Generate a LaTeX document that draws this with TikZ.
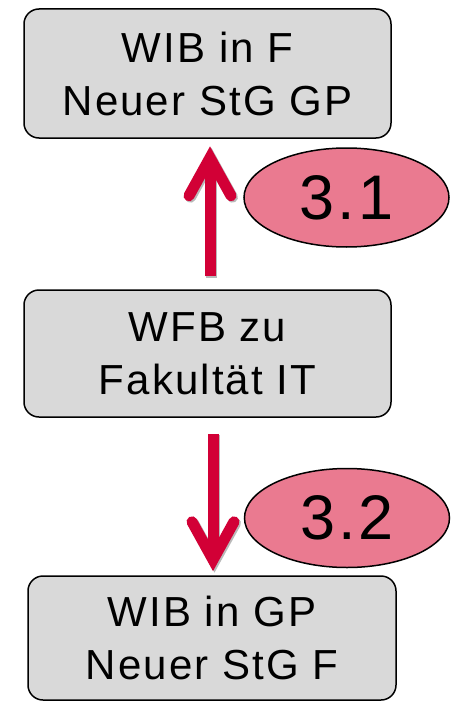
\documentclass[tikz,border=0pt]{standalone}
\usepackage{fontspec}
\setmainfont{Liberation Sans}[LetterSpace=5]
\usetikzlibrary{shapes.geometric}
\definecolor{boxgray}{HTML}{D9D9D9}
\definecolor{ovalpink}{HTML}{EA7A90}
\definecolor{arrred}{HTML}{D20036}
\tikzset{
  box/.style={draw=black, line width=1.5pt, fill=boxgray, rounded corners=15pt,
    inner sep=0pt, align=center, font=\fontsize{42}{53}\selectfont},
  oval/.style={draw=black, line width=1.5pt, fill=ovalpink, ellipse, inner sep=0pt,
    minimum width=205pt, minimum height=99pt, font=\fontsize{63}{70}\selectfont},
  shaft/.style={draw=arrred, line width=11pt, line cap=butt},
  chevron/.style={draw=arrred, line width=11pt, line cap=round, line join=miter},
  shadowed/.style={draw=gray!55, transform canvas={shift={(1.5pt,-1.5pt)}}}
}
\begin{document}
\begin{tikzpicture}[x=1pt,y=-1pt]
\useasboundingbox (0,0) rectangle (452,701);
\node[box, minimum width=367pt, minimum height=129pt] (b1) at (207.5,73.5) {WIB in F\\Neuer StG GP};
\node[box, minimum width=367pt, minimum height=127pt] (b2) at (207.5,353.5) {WFB zu\\Fakultät IT};
\node[box, minimum width=368pt, minimum height=124pt] (b3) at (212,638) {WIB in GP\\Neuer StG F};
\node[oval] (o1) at (346.5,197.5) {3.1};
\node[oval] (o2) at (347,518) {3.2};
% arrow 1: from box 2 up to box 1
\coordinate (a1s) at ([xshift=2.5pt,yshift=13pt]b2.north);
\coordinate (a1e) at ([xshift=2.5pt,yshift=-19pt]b1.south);
% arrow 2: from box 2 down to box 3
\coordinate (a2s) at ([xshift=5.5pt,yshift=-16pt]b2.south);
\coordinate (a2e) at ([xshift=1pt,yshift=15.5pt]b3.north);
% shadows
\draw[shaft, shadowed] (a1s) -- (a1e);
\draw[chevron, shadowed] (a1e) ++(-21,38) -- (a1e) -- ++(21,38);
\draw[shaft, shadowed] (a2s) -- (a2e);
\draw[chevron, shadowed] (a2e) ++(-21,-38) -- (a2e) -- ++(21,-38);
% arrows
\draw[shaft] (a1s) -- (a1e);
\draw[chevron] (a1e) ++(-21,38) -- (a1e) -- ++(21,38);
\draw[shaft] (a2s) -- (a2e);
\draw[chevron] (a2e) ++(-21,-38) -- (a2e) -- ++(21,-38);
\end{tikzpicture}
\end{document}
